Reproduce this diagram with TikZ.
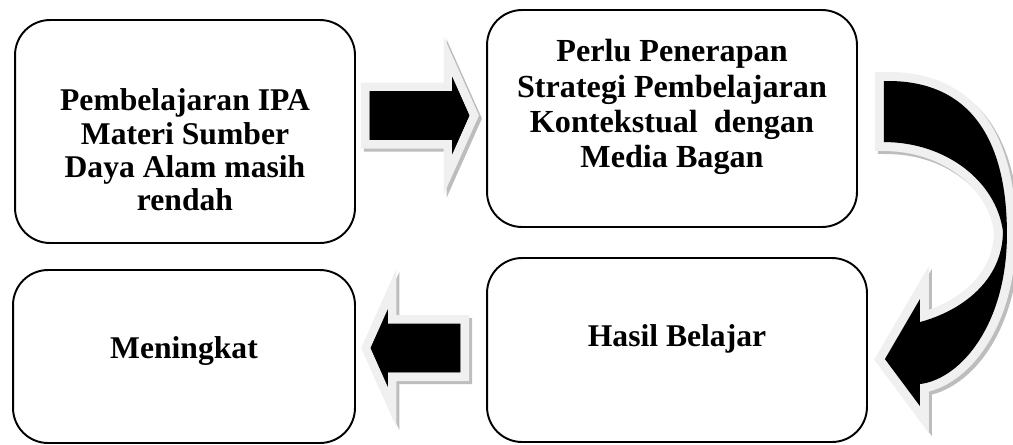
\documentclass[tikz,border=0pt]{standalone}
\usepackage{fontspec}
\setmainfont{Liberation Serif}
\usetikzlibrary{calc}

\definecolor{halo}{gray}{0.94}
\definecolor{shade}{gray}{0.74}

\begin{document}
\begin{tikzpicture}[
  x=0.02cm, y=-0.02cm,
  box/.style={draw, line width=1.1pt, rounded corners=0.7cm, inner sep=0pt},
  boxtext/.style={font=\fontsize{18}{19}\selectfont\bfseries, align=center, inner sep=0pt},
  shadowed/.style={
    preaction={draw=shade, fill=shade, line width=0.36cm, line join=miter,
               transform canvas={shift={(0.06cm,-0.06cm)}}},
    preaction={draw=halo, fill=halo, line width=0.36cm, line join=miter},
    fill=black},
  blockarrow/.style={shadowed, to path={
      let \p1=(\tikztostart), \p2=(\tikztotarget), \n1={sign(\x2-\x1)} in
      (\x1,{\y1+0.48cm}) -- ({\x2-(\n1)*0.33cm},{\y1+0.48cm})
      -- ({\x2-(\n1)*0.33cm},{\y1+0.74cm}) -- (\x2,\y1)
      -- ({\x2-(\n1)*0.33cm},{\y1-0.74cm}) -- ({\x2-(\n1)*0.33cm},{\y1-0.48cm})
      -- (\x1,{\y1-0.48cm}) -- cycle}},
]
  \useasboundingbox (0,0) rectangle (1013,444);

  % ---- boxes ----
  \node[box, minimum width=6.8cm, minimum height=4.46cm] (masalah) at (185,131.5) {};
  \node[box, minimum width=7.4cm, minimum height=4.34cm] (strategi) at (672,118.5) {};
  \node[box, minimum width=7.6cm, minimum height=3.68cm] (hasil) at (677,350) {};
  \node[box, minimum width=6.84cm, minimum height=3.46cm] (naik) at (184,356.5) {};

  % ---- texts ----
  \node[boxtext] (tmasalah) at (185,150) {Pembelajaran IPA\\Materi Sumber\\Daya Alam masih\\rendah};
  \node[boxtext, font=\fontsize{18.3}{20}\selectfont\bfseries] (tstrategi) at (672,107)
    {Perlu Penerapan\\Strategi Pembelajaran\\Kontekstual\ \ dengan\\Media Bagan};
  \node[boxtext] (thasil) at (677,339) {Hasil Belajar};
  \node[boxtext] (tnaik) at (184,351) {Meningkat};

  % ---- block arrows ----
  \draw[blockarrow] ($(masalah.east |- strategi.west)+(14,-3)$) to ($(strategi.west)+(-17,-3)$);
  \draw[blockarrow] ($(hasil.west)+(-26,-2)$) to ($(naik.east)+(15,0)$);

  % ---- curved arrow: strategi -> hasil ----
  \begin{scope}[shift={(strategi.north east)}]
    \path[shadowed] (26,72) .. controls (108,70) and (149,125) .. (149,225)
      .. controls (149,315) and (103,370) .. (62,375)
      -- (62,397) -- (27,350) -- (62,290) -- (62,313)
      .. controls (103,302) and (145,272) .. (145,222)
      .. controls (138,172) and (88,133) .. (26,133) -- cycle;
  \end{scope}
\end{tikzpicture}
\end{document}
